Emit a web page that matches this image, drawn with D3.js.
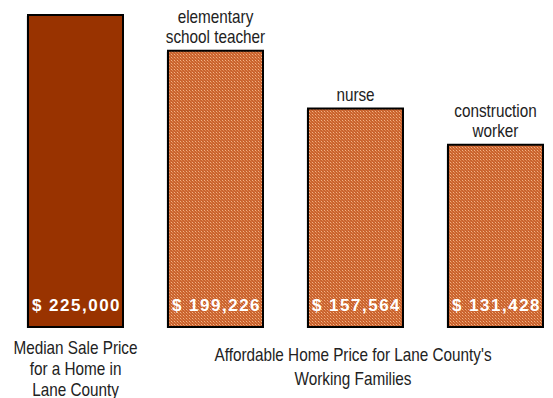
<!DOCTYPE html>
<html>
<head>
<meta charset="utf-8">
<script src="https://cdn.jsdelivr.net/npm/d3@7"></script>
<style>
  html, body { margin: 0; padding: 0; background: #fff; }
  svg { display: block; }
  .lbl { font-family: "Liberation Sans Narrow", "Arial Narrow", "Liberation Sans", Arial, sans-serif; font-size: 18px; fill: #222; }
  .val { font-family: "Liberation Sans", Arial, sans-serif; font-size: 17px; font-weight: bold; fill: #fff; letter-spacing: 1.5px; }
</style>
</head>
<body>
<svg id="chart" width="553" height="398"></svg>
<script>
// Home prices vs. what working families can afford
const categories = ["median", "teacher", "nurse", "construction"];
const values = [225000, 199226, 157564, 131428];
const barLabels = [[], ["elementary", "school teacher"], ["nurse"], ["construction", "worker"]];
const medianCaption = ["Median Sale Price", "for a Home in", "Lane County"];
const affordCaption = ["Affordable Home Price for Lane County's", "Working Families"];

const svg = d3.select("#chart");
const narrow = 0.85; // horizontal squeeze for the condensed caption face

const x = d3.scaleBand()
  .domain(categories)
  .range([5.5, 565.5])
  .paddingInner(0.3214)
  .paddingOuter(0.1607);

const y = d3.scaleLinear()
  .domain([0, 225000])
  .range([327, 15]);

// Checkered fill for the affordable-price bars
const defs = svg.append("defs");
const pat = defs.append("pattern")
  .attr("id", "check")
  .attr("patternUnits", "userSpaceOnUse")
  .attr("width", 3).attr("height", 3);
pat.append("rect").attr("width", 3).attr("height", 3).attr("fill", "#C9622D");
pat.append("rect").attr("x", 0).attr("y", 0).attr("width", 1).attr("height", 1).attr("fill", "#F2B286");
pat.append("rect").attr("x", 1).attr("y", 1).attr("width", 1).attr("height", 1).attr("fill", "#E08A55");
pat.append("rect").attr("x", 2).attr("y", 2).attr("width", 1).attr("height", 1).attr("fill", "#D57440");

const fmt = d3.format(",");

const g = svg.append("g");

// soft shadow behind each bar
g.selectAll("rect.shadow")
  .data(categories)
  .join("rect")
  .attr("class", "shadow")
  .attr("x", d => x(d) - 1.5)
  .attr("y", (d, i) => y(values[i]) + 1)
  .attr("width", x.bandwidth() + 1)
  .attr("height", (d, i) => y(0) - y(values[i]))
  .attr("fill", "#d6d6d6");

g.selectAll("rect.bar")
  .data(categories)
  .join("rect")
  .attr("class", "bar")
  .attr("x", d => x(d))
  .attr("y", (d, i) => y(values[i]))
  .attr("width", x.bandwidth())
  .attr("height", (d, i) => y(0) - y(values[i]))
  .attr("fill", (d, i) => i === 0 ? "#993300" : "url(#check)")
  .attr("stroke", "#000")
  .attr("stroke-width", 2);

// dollar values inside the bars
g.selectAll("text.val")
  .data(categories)
  .join("text")
  .attr("class", "val")
  .attr("x", d => x(d) + x.bandwidth() / 2 + 1)
  .attr("y", 311)
  .attr("text-anchor", "middle")
  .text((d, i) => "$ " + fmt(values[i]));

function label(cx, cy, t) {
  g.append("text")
    .attr("class", "lbl")
    .attr("transform", `translate(${cx},${cy}) scale(${narrow},1)`)
    .attr("text-anchor", "middle")
    .text(t);
}

// occupation labels above the bars
categories.forEach((c, i) => {
  const lines = barLabels[i];
  const top = y(values[i]);
  lines.forEach((t, j) => {
    label(x(c) + x.bandwidth() / 2, top - 8 - (lines.length - 1 - j) * 20, t);
  });
});

// captions below
medianCaption.forEach((t, j) => {
  label(x("median") + x.bandwidth() / 2, 354 + j * 21, t);
});
affordCaption.forEach((t, j) => {
  label(353, 361 + j * 24, t);
});
</script>
</body>
</html>
